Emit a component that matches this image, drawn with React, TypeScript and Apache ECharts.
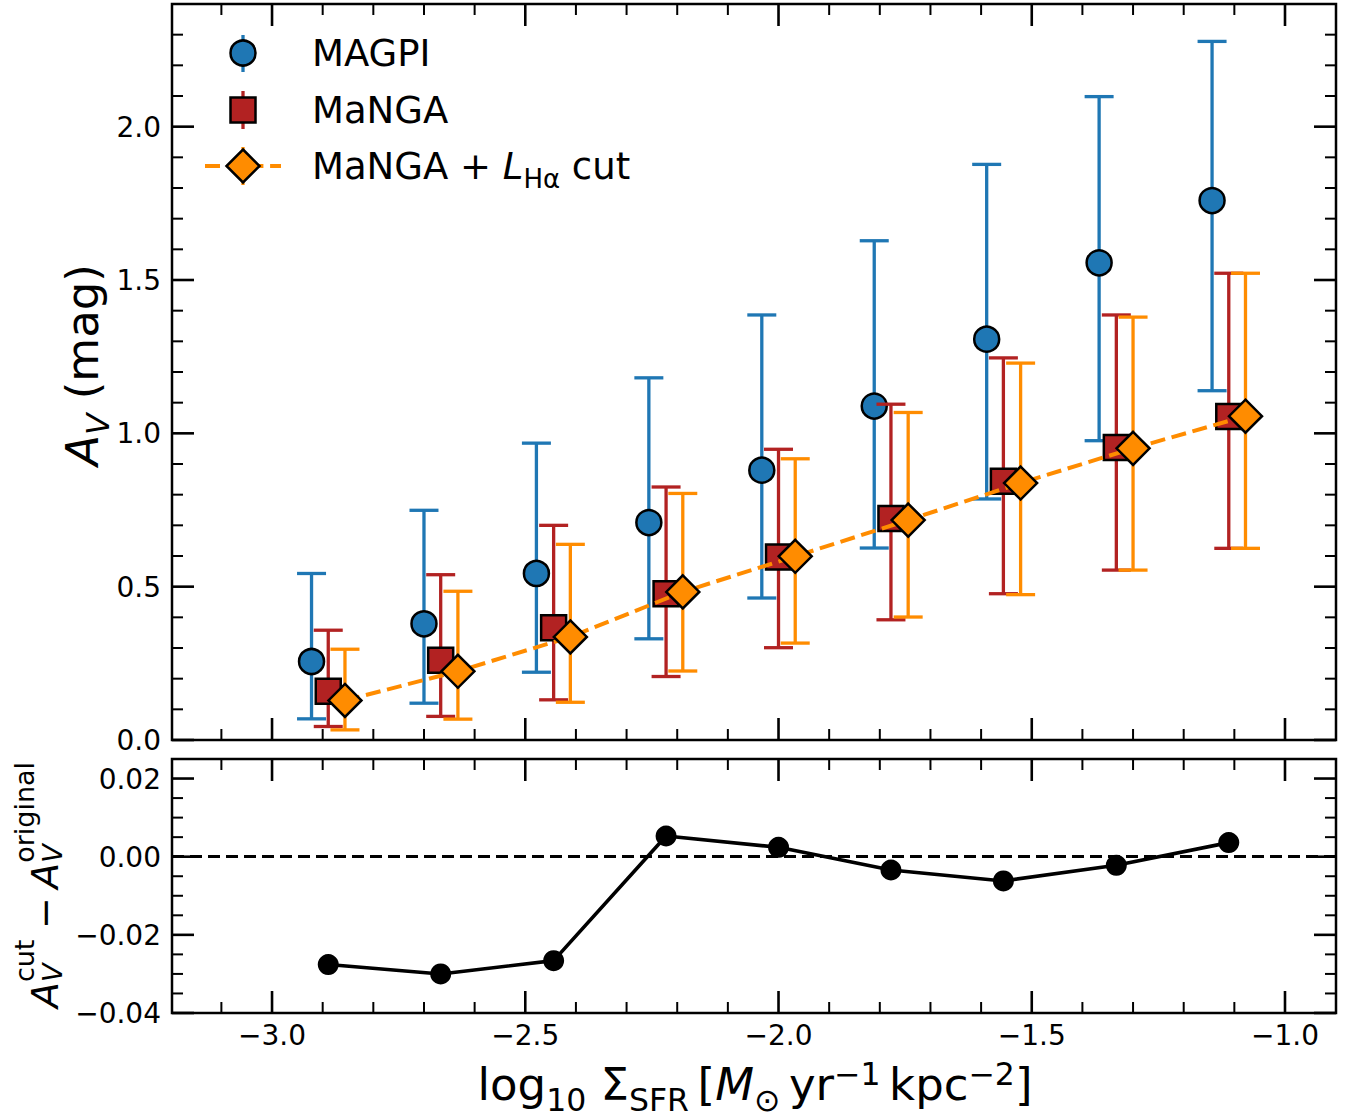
import React, { useEffect, useRef } from 'react';
import * as echarts from 'echarts';

const FONT = '"DejaVu Sans", "Liberation Sans", sans-serif';
const BLUE = '#1f77b4';
const RED = '#b22222';
const ORANGE = '#ff8c00';

// ---- data ----
const magpiX = [-2.922, -2.700, -2.478, -2.256, -2.033, -1.811, -1.589, -1.367, -1.144];
const magpiY = [0.256, 0.379, 0.543, 0.709, 0.880, 1.089, 1.307, 1.556, 1.759];
const magpiLo = [0.069, 0.120, 0.221, 0.330, 0.463, 0.626, 0.786, 0.976, 1.139];
const magpiHi = [0.543, 0.749, 0.968, 1.181, 1.386, 1.628, 1.877, 2.098, 2.278];

const mangaX = [-2.889, -2.667, -2.444, -2.222, -2.000, -1.778, -1.556, -1.333, -1.111];
const mangaY = [0.159, 0.260, 0.366, 0.477, 0.597, 0.722, 0.844, 0.954, 1.055];
const mangaLo = [0.044, 0.077, 0.131, 0.207, 0.301, 0.392, 0.477, 0.554, 0.625];
const mangaHi = [0.358, 0.539, 0.700, 0.825, 0.948, 1.095, 1.246, 1.386, 1.522];

const cutX = [-2.856, -2.633, -2.411, -2.189, -1.967, -1.744, -1.522, -1.300, -1.078];
const cutY = [0.129, 0.224, 0.336, 0.483, 0.599, 0.717, 0.838, 0.951, 1.056];
const cutLo = [0.033, 0.068, 0.123, 0.225, 0.316, 0.401, 0.474, 0.554, 0.625];
const cutHi = [0.296, 0.485, 0.638, 0.804, 0.917, 1.068, 1.229, 1.379, 1.522];

const diffX = [-2.889, -2.667, -2.444, -2.222, -2.000, -1.778, -1.556, -1.333, -1.111];
const diffY = [-0.0276, -0.0300, -0.0266, 0.0053, 0.0024, -0.0034, -0.0062, -0.0022, 0.0036];

// ---- ticks ----
const xMajorTicks = [-3.0, -2.5, -2.0, -1.5, -1.0];
const xMinorTicks = [-3.1, -2.9, -2.8, -2.7, -2.6, -2.4, -2.3, -2.2, -2.1, -1.9, -1.8, -1.7, -1.6, -1.4, -1.3, -1.2, -1.1];
const yTopMajorTicks = [0.0, 0.5, 1.0, 1.5, 2.0];
const yTopMinorTicks = [0.1, 0.2, 0.3, 0.4, 0.6, 0.7, 0.8, 0.9, 1.1, 1.2, 1.3, 1.4, 1.6, 1.7, 1.8, 1.9, 2.1, 2.2, 2.3];
const yBotMajorTicks = [-0.04, -0.02, 0.0, 0.02];
const yBotMinorTicks = [-0.035, -0.03, -0.025, -0.015, -0.01, -0.005, 0.005, 0.01, 0.015];

const X_MIN = -3.1975, X_MAX = -0.8993;
const YT_MIN = 0, YT_MAX = 2.4;
const YB_MIN = -0.04, YB_MAX = 0.025;

const TICK_FONT = 28;

const fmt = (v: number, d: number) => {
  const s = Math.abs(v).toFixed(d);
  return v < -1e-12 ? '\u2212' + s : s;
};

const zip = (a: number[], b: number[]) => a.map((x, i) => [x, b[i]]);

let _ctx: CanvasRenderingContext2D | null = null;
function fontStr(s: number, it?: boolean) {
  return `${it ? 'italic ' : ''}${s}px "DejaVu Sans"`;
}
function tw(t: string, s: number, it?: boolean) {
  if (!_ctx) _ctx = document.createElement('canvas').getContext('2d');
  _ctx!.font = fontStr(s, it);
  return _ctx!.measureText(t).width;
}
type Piece = { t: string; s: number; it?: boolean; dy?: number; adv?: number };
function mathText(pieces: Piece[], x: number, y: number, anchor: 'left' | 'center', rotation = 0) {
  const items: any[] = [];
  let cx = 0;
  for (const p of pieces) {
    const w = p.t ? tw(p.t, p.s, p.it) : 0;
    if (p.t && p.t.trim()) {
      items.push({
        type: 'text',
        x: cx,
        y: (p.dy || 0) - 0.346 * p.s,
        style: { text: p.t, font: fontStr(p.s, p.it), fill: '#000', align: 'left', verticalAlign: 'middle' },
      });
    }
    cx += p.adv !== undefined ? p.adv : w;
  }
  const shift = anchor === 'center' ? -cx / 2 : 0;
  items.forEach((it) => (it.x += shift));
  return { type: 'group', x, y, rotation, children: items };
}
const sp = (s: number, k = 1): Piece => ({ t: '', s, adv: tw(' ', s) * k });

function errorSeries(xs: number[], lo: number[], hi: number[], color: string, z: number) {
  return {
    type: 'custom',
    xAxisIndex: 0,
    yAxisIndex: 0,
    z,
    silent: true,
    data: xs.map((x, i) => [x, lo[i], hi[i]]),
    renderItem: (params: any, api: any) => {
      const x = api.value(0);
      const p1 = api.coord([x, api.value(1)]);
      const p2 = api.coord([x, api.value(2)]);
      const hw = 14.5;
      const style = { stroke: color, lineWidth: 3.3, fill: 'none' };
      return {
        type: 'group',
        children: [
          { type: 'line', shape: { x1: p1[0], y1: p1[1], x2: p2[0], y2: p2[1] }, style },
          { type: 'line', shape: { x1: p1[0] - hw, y1: p1[1], x2: p1[0] + hw, y2: p1[1] }, style },
          { type: 'line', shape: { x1: p2[0] - hw, y1: p2[1], x2: p2[0] + hw, y2: p2[1] }, style },
        ],
      };
    },
  };
}

function tickSeries(gi: number, yMajor: number[], yMinor: number[], yDec: number, xLabels: boolean) {
  const data: number[][] = [];
  xMajorTicks.forEach((v) => data.push([0, v, 1]));
  xMinorTicks.forEach((v) => data.push([0, v, 0]));
  yMajor.forEach((v) => data.push([1, v, 1]));
  yMinor.forEach((v) => data.push([1, v, 0]));
  return {
    type: 'custom',
    xAxisIndex: gi,
    yAxisIndex: gi,
    z: 30,
    silent: true,
    clip: false,
    data,
    renderItem: (params: any, api: any) => {
      const cs = params.coordSys;
      const kind = api.value(0);
      const v = api.value(1);
      const major = api.value(2) === 1;
      const L = major ? 22 : 11;
      const style = { stroke: '#000', lineWidth: major ? 2.6 : 2 };
      const children: any[] = [];
      if (kind === 0) {
        const px = api.coord([v, gi === 0 ? 1 : 0])[0];
        const top = cs.y, bot = cs.y + cs.height;
        children.push({ type: 'line', shape: { x1: px, y1: bot, x2: px, y2: bot - L }, style });
        children.push({ type: 'line', shape: { x1: px, y1: top, x2: px, y2: top + L }, style });
        if (major && xLabels) {
          children.push({
            type: 'text', x: px, y: bot + 22.5,
            style: { text: fmt(v, 1), font: fontStr(TICK_FONT), fill: '#000', align: 'center', verticalAlign: 'middle' },
          });
        }
      } else {
        const py = api.coord([-2, v])[1];
        const left = cs.x, right = cs.x + cs.width;
        children.push({ type: 'line', shape: { x1: left, y1: py, x2: left + L, y2: py }, style });
        children.push({ type: 'line', shape: { x1: right, y1: py, x2: right - L, y2: py }, style });
        if (major) {
          children.push({
            type: 'text', x: left - 11, y: py + 0.5,
            style: { text: fmt(v, yDec), font: fontStr(TICK_FONT), fill: '#000', align: 'right', verticalAlign: 'middle' },
          });
        }
      }
      return { type: 'group', children };
    },
  };
}

function hiddenAxis(gridIndex: number, min: number, max: number) {
  return {
    type: 'value', gridIndex, min, max, scale: true,
    axisLine: { show: false }, axisTick: { show: false }, axisLabel: { show: false },
    splitLine: { show: false }, minorTick: { show: false }, minorSplitLine: { show: false },
  };
}

function buildOption() {
  const LG = 37;
  const legendGraphics: any[] = [
    // MAGPI
    { type: 'line', shape: { x1: 243, y1: 35, x2: 243, y2: 72 }, style: { stroke: BLUE, lineWidth: 3.3 } },
    { type: 'circle', shape: { cx: 243, cy: 53, r: 12.5 }, style: { fill: BLUE, stroke: '#000', lineWidth: 2.5 } },
    // MaNGA
    { type: 'line', shape: { x1: 243, y1: 91, x2: 243, y2: 129 }, style: { stroke: RED, lineWidth: 3.3 } },
    { type: 'rect', shape: { x: 230.5, y: 97.5, width: 25, height: 25 }, style: { fill: RED, stroke: '#000', lineWidth: 2.5 } },
    // MaNGA + cut
    { type: 'line', shape: { x1: 205, y1: 166, x2: 281, y2: 166 }, style: { stroke: ORANGE, lineWidth: 4, lineDash: [15, 6.7] } },
    { type: 'line', shape: { x1: 243, y1: 147, x2: 243, y2: 185 }, style: { stroke: ORANGE, lineWidth: 3.3 } },
    { type: 'polygon', shape: { points: [[243, 149.5], [259.5, 166], [243, 182.5], [226.5, 166]] }, style: { fill: ORANGE, stroke: '#000', lineWidth: 2.5 } },
    mathText([{ t: 'MAGPI', s: LG }], 312, 66.5, 'left'),
    mathText([{ t: 'MaNGA', s: LG }], 312, 123.5, 'left'),
    mathText([
      { t: 'MaNGA + ', s: LG },
      { t: 'L', s: LG, it: true },
      { t: 'H\u03b1', s: 26, dy: 8 },
      sp(LG),
      { t: 'cut', s: LG },
    ], 312, 179.5, 'left'),
  ];

  const S = 45, s = 31.5;
  const xLabel = mathText([
    { t: 'log', s: S },
    { t: '10', s, dy: 10.5 },
    sp(S),
    { t: '\u03a3', s: S },
    { t: 'SFR', s, dy: 10.5 },
    sp(S, 0.6),
    { t: '[', s: S },
    { t: 'M', s: S, it: true },
    { t: '\u2299', s, dy: 10.5 },
    sp(S, 0.6),
    { t: 'yr', s: S },
    { t: '\u22121', s, dy: -15.5 },
    sp(S, 0.6),
    { t: 'kpc', s: S },
    { t: '\u22122', s, dy: -15.5 },
    { t: ']', s: S },
  ], 755, 1100, 'center');

  const yLabelTop = mathText([
    { t: 'A', s: S, it: true },
    { t: 'V', s, it: true, dy: 10.5 },
    sp(S),
    { t: '(mag)', s: S },
  ], 98, 365, 'center', Math.PI / 2);

  const B = 38, b = 27;
  const wV = tw('V', b, true);
  const yLabelBot = mathText([
    { t: 'A', s: B, it: true },
    { t: 'cut', s: b, dy: -24, adv: 0 },
    { t: 'V', s: b, it: true, dy: 4, adv: Math.max(tw('cut', b), wV) + 2 },
    sp(B, 0.7),
    { t: '\u2212', s: B },
    sp(B, 0.7),
    { t: 'A', s: B, it: true },
    { t: 'original', s: b, dy: -24, adv: 0 },
    { t: 'V', s: b, it: true, dy: 4, adv: Math.max(tw('original', b), wV) },
  ], 58, 885, 'center', Math.PI / 2);

  return {
    animation: false,
    backgroundColor: '#ffffff',
    textStyle: { fontFamily: FONT },
    grid: [
      { left: 172, top: 4, width: 1164, height: 736, show: true, borderColor: '#000', borderWidth: 2.5, backgroundColor: 'transparent' },
      { left: 172, top: 759, width: 1164, height: 254, show: true, borderColor: '#000', borderWidth: 2.5, backgroundColor: 'transparent' },
    ],
    xAxis: [hiddenAxis(0, X_MIN, X_MAX), hiddenAxis(1, X_MIN, X_MAX)],
    yAxis: [hiddenAxis(0, YT_MIN, YT_MAX), hiddenAxis(1, YB_MIN, YB_MAX)],
    series: [
      errorSeries(magpiX, magpiLo, magpiHi, BLUE, 2),
      {
        type: 'scatter', xAxisIndex: 0, yAxisIndex: 0, z: 3, silent: true,
        data: zip(magpiX, magpiY), symbol: 'circle', symbolSize: 25,
        itemStyle: { color: BLUE, borderColor: '#000', borderWidth: 2.5, opacity: 1 },
      },
      errorSeries(mangaX, mangaLo, mangaHi, RED, 4),
      {
        type: 'scatter', xAxisIndex: 0, yAxisIndex: 0, z: 5, silent: true,
        data: zip(mangaX, mangaY), symbol: 'rect', symbolSize: 25,
        itemStyle: { color: RED, borderColor: '#000', borderWidth: 2.5, opacity: 1 },
      },
      errorSeries(cutX, cutLo, cutHi, ORANGE, 6),
      {
        type: 'line', xAxisIndex: 0, yAxisIndex: 0, z: 7, silent: true,
        data: zip(cutX, cutY), symbol: 'diamond', symbolSize: 33, showSymbol: true, showAllSymbol: true,
        lineStyle: { color: ORANGE, width: 4, type: [15, 6.7] },
        itemStyle: { color: ORANGE, borderColor: '#000', borderWidth: 2.5 },
      },
      {
        type: 'line', xAxisIndex: 1, yAxisIndex: 1, z: 7, silent: true,
        data: zip(diffX, diffY), symbol: 'circle', symbolSize: 21, showSymbol: true,
        lineStyle: { color: '#000', width: 3.6 },
        itemStyle: { color: '#000', borderWidth: 0 },
        markLine: {
          silent: true, symbol: 'none', animation: false,
          label: { show: false },
          lineStyle: { color: '#000', width: 2.8, type: [12, 6] },
          data: [{ yAxis: 0 }],
          z: 6,
        },
      },
      tickSeries(0, yTopMajorTicks, yTopMinorTicks, 1, false),
      tickSeries(1, yBotMajorTicks, yBotMinorTicks, 2, true),
    ],
    graphic: { elements: [...legendGraphics, xLabel, yLabelTop, yLabelBot] },
  };
}

export default function App() {
  const ref = useRef<HTMLDivElement>(null);
  useEffect(() => {
    document.body.style.margin = '0';
    const chart = echarts.init(ref.current!, null, { renderer: 'svg' });
    chart.setOption(buildOption() as any);
    return () => chart.dispose();
  }, []);
  return (
    <div
      ref={ref}
      style={{ width: 1362, height: 1117, position: 'absolute', left: 0, top: 0, background: '#fff' }}
    />
  );
}
